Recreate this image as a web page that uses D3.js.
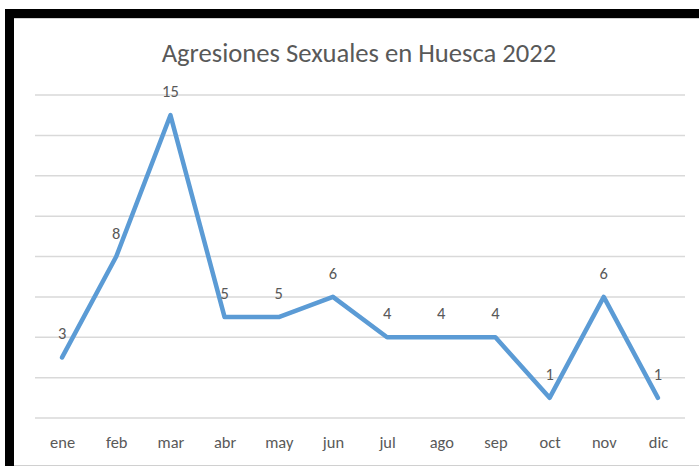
<!DOCTYPE html>
<html><head><meta charset="utf-8">
<script src="https://cdn.jsdelivr.net/npm/d3@7"></script>
<style>html,body{margin:0;padding:0;background:#fff;}svg{display:block;}</style>
</head><body>
<script>
const months = ["ene","feb","mar","abr","may","jun","jul","ago","sep","oct","nov","dic"];
const values = [3,8,15,5,5,6,4,4,4,1,6,1];
const gridTicks = [0,2,4,6,8,10,12,14,16];
const title = "Agresiones Sexuales en Huesca 2022";

const W = 699, H = 466;
const svg = d3.select("body").append("svg").attr("width", W).attr("height", H);
const font = "Carlito, Calibri, 'Open Sans', 'Liberation Sans', sans-serif";

svg.append("rect").attr("width", W).attr("height", H).attr("fill", "#fff");
// frame
svg.append("rect").attr("x", 5).attr("y", 9).attr("width", W - 5).attr("height", 9).attr("fill", "#000");
svg.append("rect").attr("x", 5).attr("y", 9).attr("width", 9).attr("height", H - 9).attr("fill", "#000");
svg.append("line").attr("x1", 14).attr("x2", W).attr("y1", 18.5).attr("y2", 18.5).attr("stroke", "#d0d0d0");
svg.append("line").attr("x1", 14).attr("x2", W).attr("y1", 465.5).attr("y2", 465.5).attr("stroke", "#d0d0d0");

const x = d3.scalePoint().domain(months).range([35, 685]).padding(0.5);
const y = d3.scaleLinear().domain([0, 16]).range([418, 95]);

// measure font scale: "ene" should be ~25px wide
const probe = svg.append("text").attr("font-family", font).attr("font-size", 16).text("ene");
const fs = 16 * 25 / probe.node().getComputedTextLength();
probe.remove();

// gridlines
svg.append("g").selectAll("line").data(gridTicks).join("line")
  .attr("x1", 35).attr("x2", 685)
  .attr("y1", d => y(d)).attr("y2", d => y(d))
  .attr("stroke", "#d9d9d9").attr("stroke-width", 1.5);

// x axis labels
const xAxis = d3.axisBottom(x).tickSize(0).tickPadding(0);
const gx = svg.append("g").attr("transform", "translate(0,448)").call(xAxis);
gx.select(".domain").remove();
gx.selectAll("text").attr("font-family", font).attr("font-size", fs).attr("fill", "#595959").attr("dy", 0);

// line
const line = d3.line().x((d, i) => x(months[i])).y(d => y(d));
svg.append("path").datum(values).attr("d", line)
  .attr("fill", "none").attr("stroke", "#5b9bd5").attr("stroke-width", 4.5)
  .attr("stroke-linejoin", "round").attr("stroke-linecap", "round");

// data labels
svg.append("g").selectAll("text").data(values).join("text")
  .attr("x", (d, i) => x(months[i]))
  .attr("y", d => y(d) - 18)
  .attr("text-anchor", "middle")
  .attr("font-family", font).attr("font-size", fs).attr("fill", "#595959")
  .text(d => d);

// title
const t = svg.append("text").attr("x", 359).attr("y", 62).attr("text-anchor", "middle")
  .attr("font-family", font).attr("font-size", 24).attr("fill", "#595959").text(title);
const len = t.node().getComputedTextLength();
t.attr("font-size", 24 * 395 / len);
</script>
</body></html>
